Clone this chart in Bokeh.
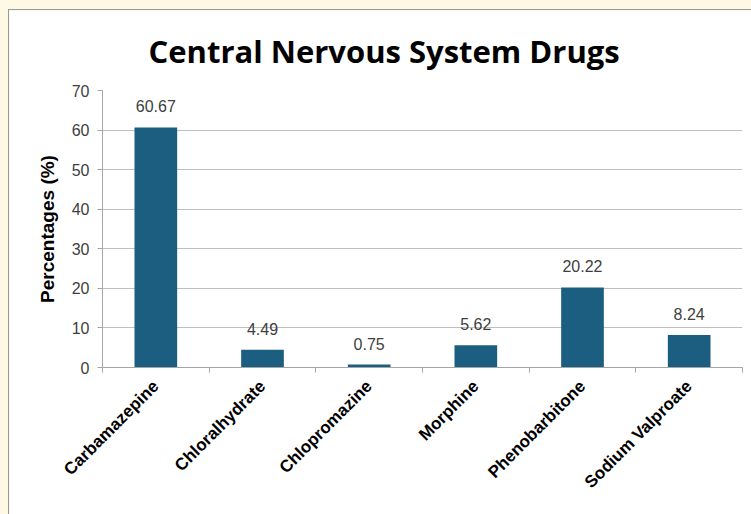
import math

from bokeh.plotting import figure
from bokeh.models import ColumnDataSource, FixedTicker, Range1d, LabelSet
from bokeh.core.properties import value
from bokeh.layouts import column
from bokeh.embed import file_html
from bokeh.resources import INLINE

# Share of prescriptions per central nervous system drug (%)
drugs = ["Carbamazepine", "Chloralhydrate", "Chlopromazine", "Morphine",
         "Phenobarbitone", "Sodium Valproate"]
percentages = [60.67, 4.49, 0.75, 5.62, 20.22, 8.24]
y_ticks = [0, 10, 20, 30, 40, 50, 60, 70]

BAR_COLOR = "#1b5e80"
TEXT_GRAY = "#404040"
LINE_GRAY = "#a6a6a6"

centers = [i + 0.5 for i in range(len(drugs))]
bounds = list(range(len(drugs) + 1))

source = ColumnDataSource(dict(
    x=centers,
    pct=percentages,
    label=[f"{v:.2f}" for v in percentages],
))

p = figure(
    width=743, height=505,
    x_range=Range1d(0, len(drugs)),
    y_range=Range1d(0, max(y_ticks)),
    output_backend="svg",
    toolbar_location=None,
    title="Central Nervous System Drugs",
    min_border_left=93, min_border_right=10,
    min_border_top=80, min_border_bottom=148,
)
p.margin = (9, 0, 0, 8)
p.styles = {"border-left": "1px solid #9a9a9a", "border-top": "1px solid #9a9a9a"}
p.background_fill_color = "white"
p.border_fill_color = "white"
p.outline_line_color = None

p.title.text_font = "Open Sans"
p.title.text_font_style = "bold"
p.title.text_font_size = "31px"
p.title.text_color = "black"
p.title.align = "left"
p.title.vertical_align = "top"
p.title.offset = 46
p.title.standoff = 34

p.vbar(x="x", top="pct", width=0.4, source=source,
       fill_color=BAR_COLOR, line_color=None)

p.add_layout(LabelSet(
    x="x", y="pct", text="label", source=source,
    text_align="center", text_baseline="bottom", y_offset=15,
    text_font=value("Liberation Sans"), text_font_size=value("16px"),
    text_color=TEXT_GRAY,
))

# y axis
p.yaxis.ticker = FixedTicker(ticks=y_ticks)
p.yaxis.axis_label = "Percentages (%)"
p.yaxis.axis_label_text_font = "Liberation Sans"
p.yaxis.axis_label_text_font_style = "bold"
p.yaxis.axis_label_text_font_size = "19px"
p.yaxis.axis_label_text_color = "black"
p.yaxis.axis_label_standoff = 11
p.yaxis.major_label_text_font = "Liberation Sans"
p.yaxis.major_label_text_font_size = "16px"
p.yaxis.major_label_text_color = TEXT_GRAY
p.yaxis.axis_line_color = LINE_GRAY
p.yaxis.major_tick_line_color = LINE_GRAY
p.yaxis.major_tick_out = 5
p.yaxis.major_tick_in = 0
p.yaxis.minor_tick_line_color = None
p.yaxis.major_label_standoff = 8

# x axis: labels at bar centres, tick marks at category boundaries
p.xaxis.ticker = FixedTicker(ticks=centers, minor_ticks=bounds)
p.xaxis.major_label_overrides = {c: d for c, d in zip(centers, drugs)}
p.xaxis.major_label_orientation = math.pi / 4
p.xaxis.major_label_text_font = "Liberation Sans"
p.xaxis.major_label_text_font_style = "bold"
p.xaxis.major_label_text_font_size = "17px"
p.xaxis.major_label_text_color = "black"
p.xaxis.major_tick_line_color = None
p.xaxis.minor_tick_line_color = LINE_GRAY
p.xaxis.minor_tick_out = 5
p.xaxis.minor_tick_in = 0
p.xaxis.axis_line_color = LINE_GRAY
p.xaxis.major_label_standoff = 10

p.xgrid.grid_line_color = None
p.ygrid.grid_line_color = "#bfbfbf"
p.ygrid.grid_line_width = 1

page = column(p, width=751, height=514,
              styles={"background-color": "#fef9e5"})

open("out.html", "w").write(file_html(page, INLINE))
